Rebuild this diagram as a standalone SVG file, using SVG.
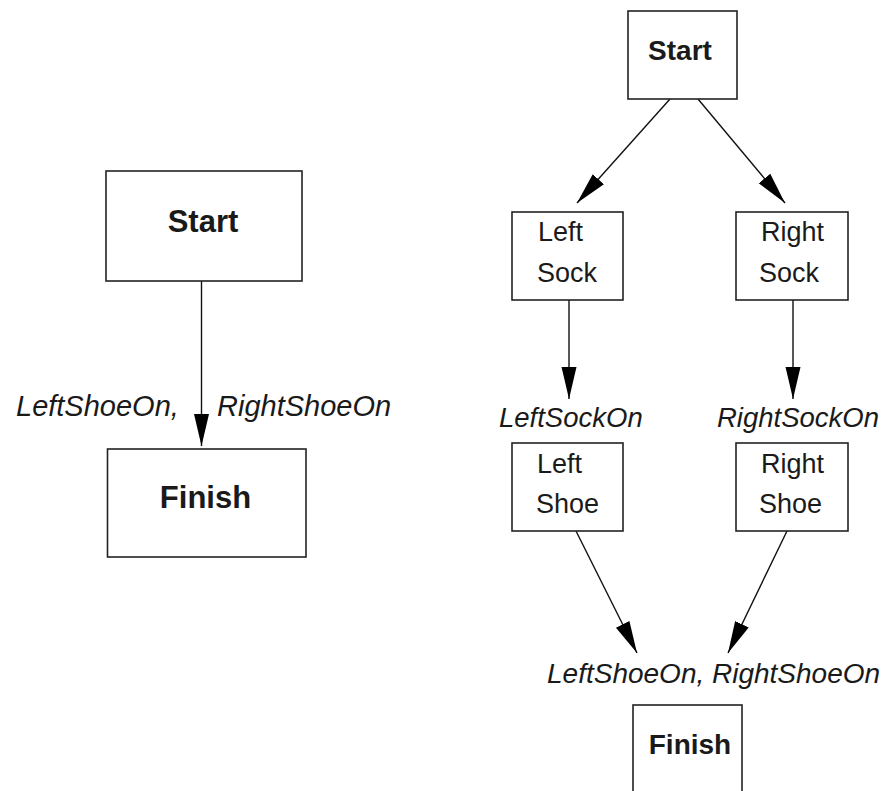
<svg xmlns="http://www.w3.org/2000/svg" width="888" height="791" viewBox="0 0 888 791">
<style>
  .box { fill: #ffffff; stroke: #222222; stroke-width: 1.6; }
  .edge { stroke: #111111; stroke-width: 1.4; fill: none; marker-end: url(#arr); }
  .t { font-family: "Liberation Sans", Arial, sans-serif; fill: #1a1a1a; }
  .bold { font-weight: bold; }
  .lbl { font-family: "Liberation Sans", Arial, sans-serif; font-style: italic; fill: #1a1a1a; }
</style>
<defs>
  <marker id="arr" markerUnits="userSpaceOnUse" markerWidth="34" markerHeight="18" viewBox="0 -9 34 18" refX="32" refY="0" orient="auto">
    <path d="M0,-7.5 L32,0 L0,7.5 z" fill="#000000"/>
  </marker>
</defs>
<rect width="888" height="791" fill="#ffffff"/>

<g id="connectors">
  <line class="edge" x1="201.5" y1="281" x2="201.5" y2="446"/>
  <line class="edge" x1="670" y1="99" x2="577" y2="203"/>
  <line class="edge" x1="698" y1="99" x2="785" y2="203"/>
  <line class="edge" x1="569" y1="300" x2="569" y2="399"/>
  <line class="edge" x1="793" y1="300" x2="793" y2="399"/>
  <line class="edge" x1="576" y1="531" x2="637" y2="653"/>
  <line class="edge" x1="787" y1="531" x2="728" y2="653"/>
</g>

<g id="labels">
  <text class="lbl" font-size="29" y="416"><tspan x="16">LeftShoeOn,</tspan><tspan x="217">RightShoeOn</tspan></text>
  <text class="lbl" font-size="27.5" x="499" y="427">LeftSockOn</text>
  <text class="lbl" font-size="27.5" x="717" y="427">RightSockOn</text>
  <text class="lbl" font-size="28" x="547" y="683">LeftShoeOn, RightShoeOn</text>
</g>

<g id="left-start">
  <rect class="box" x="106" y="171" width="196" height="110"/>
  <text class="t bold" font-size="31" x="203" y="232" text-anchor="middle">Start</text>
</g>
<g id="left-finish">
  <rect class="box" x="107.5" y="449" width="198.5" height="108"/>
  <text class="t bold" font-size="31" x="205.5" y="508" text-anchor="middle">Finish</text>
</g>

<g id="right-start">
  <rect class="box" x="628" y="11" width="109" height="88"/>
  <text class="t bold" font-size="28" x="680" y="60" text-anchor="middle">Start</text>
</g>
<g id="left-sock">
  <rect class="box" x="512" y="212" width="111" height="88"/>
  <text class="t" font-size="27" x="538" y="241">Left</text>
  <text class="t" font-size="27" x="537" y="282">Sock</text>
</g>
<g id="right-sock">
  <rect class="box" x="736" y="212" width="112" height="88"/>
  <text class="t" font-size="27" x="761" y="241">Right</text>
  <text class="t" font-size="27" x="759" y="282">Sock</text>
</g>
<g id="left-shoe">
  <rect class="box" x="512" y="443" width="111" height="88"/>
  <text class="t" font-size="27" x="537" y="473">Left</text>
  <text class="t" font-size="27" x="536" y="513">Shoe</text>
</g>
<g id="right-shoe">
  <rect class="box" x="736" y="443" width="112" height="88"/>
  <text class="t" font-size="27" x="761" y="473">Right</text>
  <text class="t" font-size="27" x="759" y="513">Shoe</text>
</g>
<g id="right-finish">
  <rect class="box" x="633" y="705" width="109" height="100"/>
  <text class="t bold" font-size="28" x="690" y="754" text-anchor="middle">Finish</text>
</g>
</svg>
